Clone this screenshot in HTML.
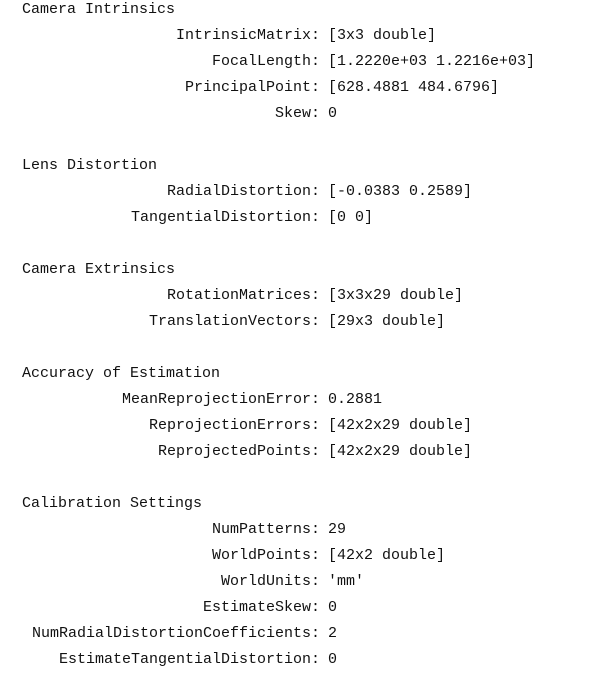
<!DOCTYPE html>
<html><head><meta charset="utf-8"><style>
body{margin:0;width:605px;height:685px;background:#fff;position:relative;overflow:hidden;font-family:"Liberation Mono","Noto Sans CJK SC",monospace;font-size:15px;color:#111}
div{position:absolute;line-height:26px;white-space:pre}
.l{right:285px;text-align:right}
.v{left:328px}
.h{left:22px}
</style></head><body>
<div class="h" style="top:-3px">Camera Intrinsics</div>
<div class="l" style="top:23px">IntrinsicMatrix:</div><div class="v" style="top:23px">[3x3 double]</div>
<div class="l" style="top:49px">FocalLength:</div><div class="v" style="top:49px">[1.2220e+03 1.2216e+03]</div>
<div class="l" style="top:75px">PrincipalPoint:</div><div class="v" style="top:75px">[628.4881 484.6796]</div>
<div class="l" style="top:101px">Skew:</div><div class="v" style="top:101px">0</div>
<div class="h" style="top:153px">Lens Distortion</div>
<div class="l" style="top:179px">RadialDistortion:</div><div class="v" style="top:179px">[-0.0383 0.2589]</div>
<div class="l" style="top:205px">TangentialDistortion:</div><div class="v" style="top:205px">[0 0]</div>
<div class="h" style="top:257px">Camera Extrinsics</div>
<div class="l" style="top:283px">RotationMatrices:</div><div class="v" style="top:283px">[3x3x29 double]</div>
<div class="l" style="top:309px">TranslationVectors:</div><div class="v" style="top:309px">[29x3 double]</div>
<div class="h" style="top:361px">Accuracy of Estimation</div>
<div class="l" style="top:387px">MeanReprojectionError:</div><div class="v" style="top:387px">0.2881</div>
<div class="l" style="top:413px">ReprojectionErrors:</div><div class="v" style="top:413px">[42x2x29 double]</div>
<div class="l" style="top:439px">ReprojectedPoints:</div><div class="v" style="top:439px">[42x2x29 double]</div>
<div class="h" style="top:491px">Calibration Settings</div>
<div class="l" style="top:517px">NumPatterns:</div><div class="v" style="top:517px">29</div>
<div class="l" style="top:543px">WorldPoints:</div><div class="v" style="top:543px">[42x2 double]</div>
<div class="l" style="top:569px">WorldUnits:</div><div class="v" style="top:569px">'mm'</div>
<div class="l" style="top:595px">EstimateSkew:</div><div class="v" style="top:595px">0</div>
<div class="l" style="top:621px">NumRadialDistortionCoefficients:</div><div class="v" style="top:621px">2</div>
<div class="l" style="top:647px">EstimateTangentialDistortion:</div><div class="v" style="top:647px">0</div>
</body></html>
